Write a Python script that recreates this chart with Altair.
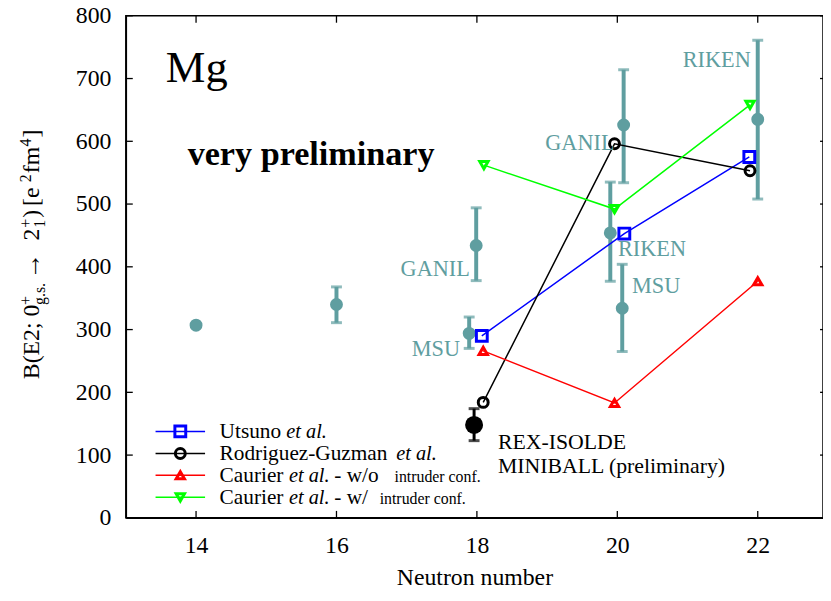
import altair as alt
import pandas as pd

# ---------------- data ----------------
# experimental B(E2) values (teal)
exp_N = [14.0, 16.0, 17.89, 17.99, 19.90, 20.09, 20.07, 22.0]
exp_B = [307, 340, 294, 434, 454, 626, 334, 635]
err_N = [16.0, 17.89, 17.99, 19.90, 20.09, 20.07, 22.0]
err_lo = [311, 270, 378, 377, 534, 265, 508]
err_hi = [368, 320, 494, 535, 714, 404, 761]

# REX-ISOLDE / MINIBALL (preliminary)
rex_N = [17.96]
rex_B = [148]
rex_lo = [123]
rex_hi = [174]

# theory curves
utsuno_N = [18.07, 20.10, 21.88]
utsuno_B = [290, 453, 575]
rodriguez_N = [18.09, 19.96, 21.89]
rodriguez_B = [184, 596, 553]
caurier_wo_N = [18.09, 19.96, 22.0]
caurier_wo_B = [266, 183, 377]
caurier_w_N = [18.10, 19.96, 21.89]
caurier_w_B = [562, 492, 658]

# lab annotations
ann_text = ["GANIL", "MSU", "GANIL", "RIKEN", "MSU", "RIKEN"]
ann_N = [17.90, 17.76, 19.96, 20.01, 20.21, 21.90]
ann_B = [386, 258, 586, 418, 358, 718]
ann_side = ["right", "right", "right", "left", "left", "right"]

x_ticks = [14, 16, 18, 20, 22]
y_ticks = [0, 100, 200, 300, 400, 500, 600, 700, 800]

# ---------------- layout ----------------
W = 704
H = 507
PX_PER_N = 70.9
XMIN = 13
XMAX = XMIN + W / PX_PER_N
FONT = "Liberation Serif"
TEAL = "#5f9ea0"
OX, OY = 127, 13  # plot origin on the page

xs = alt.Scale(domain=[XMIN, XMAX], nice=False, zero=False)
ys = alt.Scale(domain=[0, 800], nice=False, zero=False)

axis_common = dict(
    labelFont=FONT, labelFontSize=24, labelColor="black",
    titleFont=FONT, titleFontSize=24, titleFontWeight="normal", titleColor="black",
    ticks=False, tickSize=0, grid=False, domainColor="black", domainWidth=1.5,
)
AX = alt.Axis(values=x_ticks, title="Neutron number", labelPadding=16, titlePadding=8, **axis_common)
AY = alt.Axis(values=y_ticks, title=None, labelPadding=15, **axis_common)


def X(f="N"):
    return alt.X(f"{f}:Q", scale=xs, axis=AX)


def Y(f="B"):
    return alt.Y(f"{f}:Q", scale=ys, axis=AY)


one = pd.DataFrame({"a": [0]})

exp_df = pd.DataFrame({"N": exp_N, "B": exp_B})
err_df = pd.DataFrame({"N": err_N, "lo": err_lo, "hi": err_hi})
cap_df = pd.DataFrame({"N": err_N + err_N, "B": err_lo + err_hi})
rex_df = pd.DataFrame({"N": rex_N, "B": rex_B, "lo": rex_lo, "hi": rex_hi})
rex_cap = pd.DataFrame({"N": rex_N + rex_N, "B": rex_lo + rex_hi})

layers = []

# experimental error bars and points
layers.append(alt.Chart(err_df).mark_rule(color=TEAL, strokeWidth=4).encode(
    x=X(), y=Y("lo"), y2="hi:Q"))
layers.append(alt.Chart(cap_df).mark_tick(color=TEAL, thickness=3, size=11, orient="horizontal").encode(
    x=X(), y=Y()))
layers.append(alt.Chart(exp_df).mark_circle(size=170, color=TEAL, opacity=1).encode(x=X(), y=Y()))

# inward ticks
xt = pd.DataFrame({"N": x_ticks})
yt = pd.DataFrame({"B": y_ticks})
layers.append(alt.Chart(xt).mark_rule(color="black", strokeWidth=1.3).encode(
    x=X(), y=alt.value(H), y2=alt.value(H - 7)))
layers.append(alt.Chart(xt).mark_rule(color="black", strokeWidth=1.3).encode(
    x=X(), y=alt.value(0), y2=alt.value(7)))
layers.append(alt.Chart(yt).mark_rule(color="black", strokeWidth=1.3).encode(
    y=Y(), x=alt.value(0), x2=alt.value(7)))
layers.append(alt.Chart(yt).mark_rule(color="black", strokeWidth=1.3).encode(
    y=Y(), x=alt.value(W - 3), x2=alt.value(W)))

# REX-ISOLDE point
layers.append(alt.Chart(rex_df).mark_rule(color="black", strokeWidth=3).encode(
    x=X(), y=Y("lo"), y2="hi:Q"))
layers.append(alt.Chart(rex_cap).mark_tick(color="black", thickness=3, size=11, orient="horizontal").encode(
    x=X(), y=Y()))
layers.append(alt.Chart(rex_df).mark_circle(size=330, color="black", opacity=1).encode(x=X(), y=Y()))

# theory curves
series = [
    (utsuno_N, utsuno_B, "#0000ff", "square", 120),
    (rodriguez_N, rodriguez_B, "#000000", "circle", 100),
    (caurier_wo_N, caurier_wo_B, "#ff0000", "triangle-up", 70),
    (caurier_w_N, caurier_w_B, "#00ff00", "triangle-down", 70),
]
for n, b, col, shp, sz in series:
    df = pd.DataFrame({"N": n, "B": b})
    layers.append(alt.Chart(df).mark_line(color=col, strokeWidth=1.5).encode(x=X(), y=Y()))
    layers.append(alt.Chart(df).mark_point(shape=shp, filled=False, color=col, strokeWidth=3,
                                           size=sz, opacity=1).encode(x=X(), y=Y()))

# lab annotations
ann_df = pd.DataFrame({"N": ann_N, "B": ann_B, "t": ann_text, "side": ann_side})
for side in ["left", "right"]:
    layers.append(alt.Chart(ann_df[ann_df.side == side]).mark_text(
        font=FONT, fontSize=22.5, color=TEAL, align=side, baseline="alphabetic").encode(
        x=X(), y=Y(), text="t:N"))

# free text
txt_df = pd.DataFrame({
    "N": [13.57, 13.88, 18.30, 18.30],
    "B": [695, 562, 110, 72],
    "t": ["Mg", "very preliminary", "REX-ISOLDE", "MINIBALL (preliminary)"],
    "size": [45, 34.5, 22, 22],
    "weight": ["normal", "bold", "normal", "normal"],
})
for i in range(len(txt_df)):
    r = txt_df.iloc[[i]]
    layers.append(alt.Chart(r).mark_text(
        font=FONT, fontSize=float(r["size"].iloc[0]), fontWeight=r["weight"].iloc[0],
        color="black", align="left", baseline="alphabetic").encode(x=X(), y=Y(), text="t:N"))

# ---------------- legend ----------------
leg_rows_y = [432.7, 455.0, 477.0, 499.3]
for (n, b, col, shp, sz), ry in zip(series, leg_rows_y):
    layers.append(alt.Chart(one).mark_rule(color=col, strokeWidth=1.5).encode(
        x=alt.value(157 - OX), x2=alt.value(207 - OX), y=alt.value(ry - OY)))
    layers.append(alt.Chart(one).mark_point(shape=shp, filled=False, color=col, strokeWidth=3,
                                            size=sz, opacity=1).encode(
        x=alt.value(182 - OX), y=alt.value(ry - OY)))

leg_pieces = [
    (0, "Utsuno", 221.7, 21.5, "normal"), (0, "et al.", 289.0, 20.5, "italic"),
    (1, "Rodriguez-Guzman", 221.7, 21.5, "normal"), (1, "et al.", 400.0, 20.5, "italic"),
    (2, "Caurier", 221.7, 21.5, "normal"), (2, "et al.", 291.7, 20.5, "italic"),
    (2, "- w/o", 337.5, 21.5, "normal"), (2, "intruder conf.", 398.3, 16, "normal"),
    (3, "Caurier", 221.7, 21.5, "normal"), (3, "et al.", 291.7, 20.5, "italic"),
    (3, "- w/", 337.5, 21.5, "normal"), (3, "intruder conf.", 383.3, 16, "normal"),
]
for row, t, xp, sz, st in leg_pieces:
    layers.append(alt.Chart(one).mark_text(text=t, font=FONT, fontSize=sz, fontStyle=st, color="black",
                                           align="left", baseline="alphabetic").encode(
        x=alt.value(xp - OX), y=alt.value(leg_rows_y[row] - OY + 7)))

# ---------------- y-axis title (rotated, with sub/superscripts) ----------------
ytitle = [
    ("B(E2; 0", 380, 39, 24),
    ("+", 305, 31, 16),
    ("g.s.", 305, 45, 16),
    ("\u2192", 279, 40, 27),
    ("2", 240, 39, 24),
    ("+", 227, 31, 16),
    ("1", 227, 45, 16),
    (")", 217, 39, 24),
    ("[e", 205, 39, 24),
    ("2", 181, 31, 16),
    ("fm", 172, 39, 24),
    ("4", 145, 31, 16),
    ("]", 136, 39, 24),
]
for t, yp, xp, sz in ytitle:
    layers.append(alt.Chart(one).mark_text(text=t, font=FONT, fontSize=sz, angle=270, color="black",
                                           align="left", baseline="alphabetic").encode(
        x=alt.value(xp - OX), y=alt.value(yp - OY)))

chart = alt.layer(*layers).properties(
    width=W, height=H,
    autosize=alt.AutoSizeParams(type="none"),
    padding={"left": OX - 8, "top": OY - 8, "right": 0, "bottom": 70},
).configure_view(stroke="black", strokeWidth=1.5)

chart.save("out.html", embed_options={"renderer": "svg", "actions": False})
